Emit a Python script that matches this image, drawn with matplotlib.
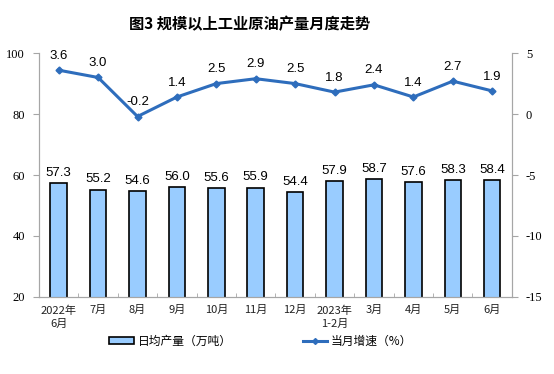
import matplotlib
matplotlib.use("Agg")
import matplotlib.pyplot as plt
from matplotlib.lines import Line2D
from matplotlib.patches import Patch

categories = ["2022年\n6月", "7月", "8月", "9月", "10月", "11月", "12月",
              "2023年\n1-2月", "3月", "4月", "5月", "6月"]
daily_output = [57.3, 55.2, 54.6, 56.0, 55.6, 55.9, 54.4, 57.9, 58.7, 57.6, 58.3, 58.4]
growth = [3.6, 3.0, -0.2, 1.4, 2.5, 2.9, 2.5, 1.8, 2.4, 1.4, 2.7, 1.9]
left_ticks = [20, 40, 60, 80, 100]
right_ticks = [-15, -10, -5, 0, 5]

plt.rcParams['font.family'] = ['Noto Sans CJK SC', 'DejaVu Sans']

fig = plt.figure(figsize=(5.54, 3.74), dpi=100)
ax = fig.add_axes([0.0704, 0.206, 0.8536, 0.652])
ax2 = ax.twinx()

x = list(range(len(categories)))
bar_color = "#99CCFF"
line_color = "#2E6DBC"
spine_color = "#A6A6A6"

ax.bar(x, daily_output, width=0.42, color=bar_color, edgecolor="black", linewidth=1.2, zorder=2)
for xi, v in zip(x, daily_output):
    ax.annotate(f"{v:.1f}", (xi, v), xytext=(0, 3), textcoords="offset points",
                ha="center", va="bottom", fontsize=9.5, family="Liberation Sans", color="black")

ax2.plot(x, growth, color=line_color, linewidth=2.2, marker="D", markersize=3.5, zorder=3)
for xi, v in zip(x, growth):
    ax2.annotate(f"{v:.1f}", (xi, v), xytext=(0, 6), textcoords="offset points",
                 ha="center", va="bottom", fontsize=9.5, family="Liberation Sans", color="black")

ax.set_xlim(-0.5, len(categories) - 0.5)
ax.set_ylim(20, 100)
ax2.set_ylim(-15, 5)
ax.set_yticks(left_ticks)
ax2.set_yticks(right_ticks)
ax.set_yticklabels([str(t) for t in left_ticks], family="Liberation Serif", fontsize=9)
ax2.set_yticklabels([str(t) for t in right_ticks], family="Liberation Serif", fontsize=9)

ax.set_xticks(x)
ax.set_xticklabels(categories, fontsize=8, color="#222222", linespacing=1.4)
ax.tick_params(axis="x", length=0, pad=6)
ax.set_xticks([i + 0.5 for i in x[:-1]], minor=True)
ax.tick_params(axis="x", which="minor", length=3, direction="in", color=spine_color)
ax.tick_params(axis="y", length=4, color=spine_color, pad=6)
ax2.tick_params(axis="y", length=4, color=spine_color, pad=6)

for a in (ax, ax2):
    a.spines["top"].set_visible(False)
    for s in ["left", "right", "bottom"]:
        a.spines[s].set_color(spine_color)
        a.spines[s].set_linewidth(0.8)

fig.text(0.451, 0.935, "图3 规模以上工业原油产量月度走势", ha="center", va="center",
         fontsize=11, fontweight="bold", color="black")

handles = [Patch(facecolor=bar_color, edgecolor="black", linewidth=1.2),
           Line2D([0], [0], color=line_color, linewidth=2.2, marker="D", markersize=3)]
labels = ["日均产量（万吨）", "当月增速（%）"]
fig.legend(handles, labels, loc="center", bbox_to_anchor=(0.471, 0.088), ncol=2,
           frameon=False, fontsize=8.5, handlelength=2.1, handleheight=0.6,
           columnspacing=6, handletextpad=0.3)

fig.savefig("out.png", dpi=100)
